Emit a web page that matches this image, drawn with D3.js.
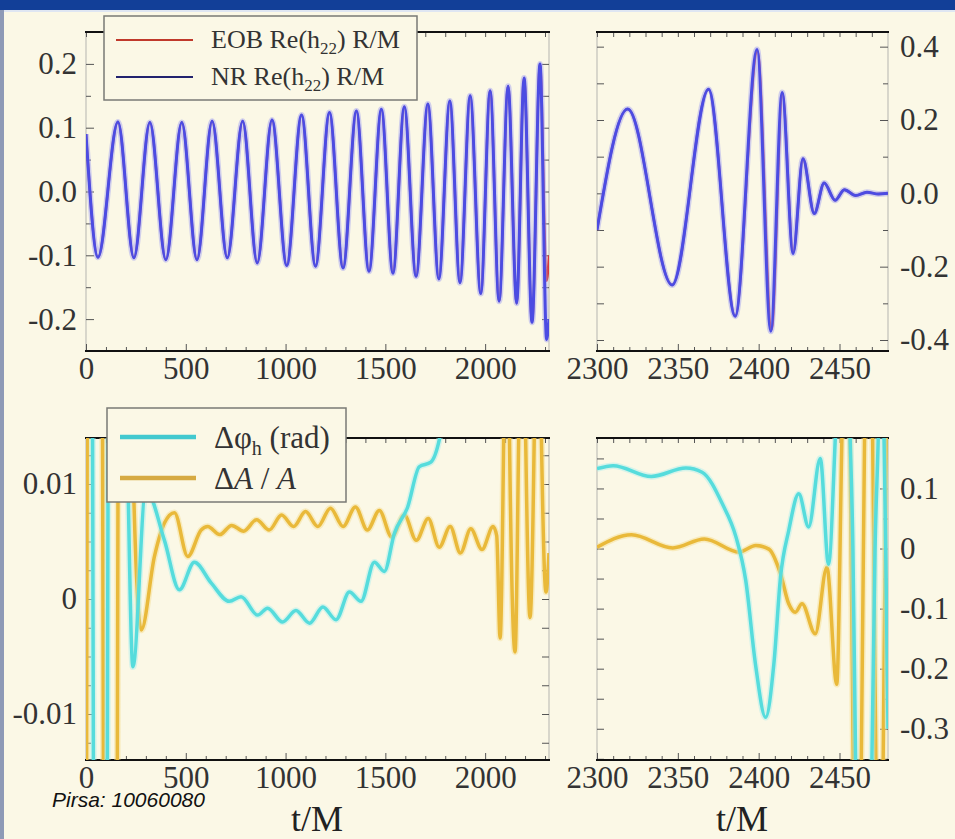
<!DOCTYPE html>
<html>
<head>
<meta charset="utf-8">
<script src="https://cdn.jsdelivr.net/npm/d3@7"></script>
<style>
  html, body { margin: 0; padding: 0; background: #fbf8e6; }
  svg { display: block; }
</style>
</head>
<body>
<svg id="chart" width="955" height="839"></svg>
<script>
'use strict';

// ---- values (extrema / turning points) ----

// top left: Re(h22) R/M during the inspiral
const inspTime = [0, 60, 160, 240, 320, 400, 480, 556, 632, 708, 785, 858, 932, 1006,
  1080, 1150, 1220, 1288, 1355, 1418, 1480, 1538, 1595, 1654, 1713, 1768, 1823, 1874,
  1925, 1978, 2025, 2070, 2115, 2158, 2195, 2235, 2275, 2308, 2320];
const nrInspVal = [0.09, -0.103, 0.109, -0.104, 0.108, -0.107, 0.108, -0.107, 0.11, -0.104,
  0.11, -0.112, 0.112, -0.116, 0.12, -0.117, 0.124, -0.12, 0.126, -0.125, 0.129, -0.128,
  0.133, -0.133, 0.137, -0.137, 0.142, -0.143, 0.15, -0.16, 0.158, -0.172, 0.165, -0.175,
  0.178, -0.205, 0.2, -0.232, -0.2];
const eobInspVal = [0.09, -0.103, 0.109, -0.104, 0.108, -0.107, 0.108, -0.107, 0.11, -0.104,
  0.11, -0.112, 0.112, -0.116, 0.12, -0.117, 0.124, -0.12, 0.126, -0.125, 0.129, -0.128,
  0.133, -0.133, 0.137, -0.137, 0.142, -0.143, 0.15, -0.16, 0.158, -0.172, 0.165, -0.175,
  0.178, -0.205, 0.2, -0.14, -0.1];

// top right: merger and ringdown
const nrMergTime = [2300, 2319, 2346.5, 2369, 2385.5, 2399, 2407.5, 2414.5, 2421.3, 2427.4,
  2434.4, 2440.5, 2447.3, 2453, 2460, 2467, 2474, 2480];
const nrMergVal = [-0.1, 0.23, -0.25, 0.284, -0.335, 0.392, -0.376, 0.275, -0.164, 0.094,
  -0.055, 0.028, -0.019, 0.01, -0.006, 0.003, -0.002, 0.0];
const eobMergTime = [2300, 2319, 2346.5, 2369, 2385.5, 2399.3, 2408, 2414.7, 2421.3, 2427.4,
  2434.4, 2440.5, 2447.3, 2453, 2460, 2467, 2474, 2480];
const eobMergVal = [-0.1, 0.23, -0.25, 0.284, -0.335, 0.388, -0.372, 0.272, -0.162, 0.094,
  -0.055, 0.028, -0.019, 0.01, -0.006, 0.003, -0.002, 0.0];

// bottom left: phase difference (rad) and relative amplitude difference
const dPhiTime = [0, 33, 37, 70, 107, 111, 160, 206, 235, 300, 393, 468, 543, 627, 718,
  777, 860, 910, 985, 1052, 1120, 1187, 1253, 1320, 1378, 1445, 1495, 1545, 1612, 1670,
  1728, 1778, 1850, 2320];
const dPhiVal = [0.05, 0.014, -0.014, -0.06, -0.014, 0.014, 0.06, 0.014, -0.0059, 0.0095,
  0.0051, 0.0008, 0.0032, 0.0014, -0.0002, 0.0002, -0.0014, -0.0008, -0.002, -0.001,
  -0.0021, -0.0007, -0.0018, 0.0006, -0.0002, 0.0032, 0.0024, 0.0057, 0.008, 0.0115,
  0.0119, 0.0145, 0.025, 0.06];
const dAmpTime = [0, 3, 6, 45, 83, 87, 122, 157, 161, 200, 232, 277, 343, 393, 443, 510,
  577, 610, 670, 730, 790, 855, 918, 980, 1040, 1100, 1162, 1225, 1288, 1350, 1410, 1470,
  1532, 1595, 1655, 1715, 1770, 1825, 1876, 1928, 1984, 2040, 2058, 2075, 2093, 2108,
  2122, 2150, 2168, 2185, 2203, 2225, 2246, 2263, 2282, 2305, 2320];
const dAmpVal = [-0.06, -0.014, 0.014, 0.06, 0.014, -0.014, -0.06, -0.014, 0.014, 0.06,
  0.014, -0.0027, 0.0037, 0.0066, 0.0075, 0.0037, 0.006, 0.0063, 0.0056, 0.0064, 0.0059,
  0.0069, 0.006, 0.0073, 0.0063, 0.0076, 0.0063, 0.0079, 0.0063, 0.008, 0.006, 0.0077,
  0.0054, 0.0073, 0.0051, 0.007, 0.0045, 0.0063, 0.004, 0.0061, 0.0043, 0.0063, 0.0055,
  -0.0034, 0.014, 0.04, 0.014, -0.0046, 0.014, 0.04, 0.014, -0.0016, 0.014, 0.04, 0.014,
  0.0006, 0.004];

// bottom right: same differences through merger
const dPhiMergTime = [2300, 2310, 2333.6, 2355, 2365, 2377.6, 2386, 2392, 2398, 2404.3,
  2409.4, 2413.5, 2418.6, 2424.8, 2430.9, 2438.1, 2443.2, 2447.5, 2452, 2456.5, 2458.3,
  2460, 2465, 2470, 2472, 2474, 2476, 2477.5, 2478.6, 2480];
const dPhiMergVal = [0.133, 0.138, 0.12, 0.134, 0.127, 0.074, 0.019, -0.053, -0.192, -0.281,
  -0.192, -0.048, 0.03, 0.091, 0.036, 0.15, -0.026, 0.19, 0.5, 0.19, 0, -0.36, -0.8,
  -0.36, 0, 0.19, 0.5, 0.19, 0, -0.3];
const dAmpMergTime = [2300, 2321.3, 2346.9, 2366.4, 2387.9, 2398.2, 2406.3, 2413.5, 2418.6,
  2422.7, 2426.8, 2435, 2442.2, 2448.3, 2451.5, 2454, 2456.5, 2458.5, 2461, 2463.5, 2465.5,
  2468, 2470.5, 2472.5, 2475, 2477, 2479, 2480];
const dAmpMergVal = [0.002, 0.023, 0.001, 0.016, -0.006, 0.005, -0.001, -0.042, -0.092,
  -0.106, -0.092, -0.142, -0.031, -0.226, 0.184, 0.5, 0.184, -0.352, -0.8, -0.352, 0.184,
  0.5, 0.184, -0.352, -0.7, -0.352, 0.184, 0.3];

// tick labels
const inspTicks = [0, 500, 1000, 1500, 2000];
const inspTickLabels = ['0', '500', '1000', '1500', '2000'];
const mergTicks = [2300, 2350, 2400, 2450];
const mergTickLabels = ['2300', '2350', '2400', '2450'];
const hInspTicks = [-0.2, -0.1, 0, 0.1, 0.2];
const hInspLabels = ['-0.2', '-0.1', '0.0', '0.1', '0.2'];
const hMergTicks = [-0.4, -0.2, 0, 0.2, 0.4];
const hMergLabels = ['-0.4', '-0.2', '0.0', '0.2', '0.4'];
const diffInspTicks = [-0.01, 0, 0.01];
const diffInspLabels = ['-0.01', '0', '0.01'];
const diffMergTicks = [-0.3, -0.2, -0.1, 0, 0.1];
const diffMergLabels = ['-0.3', '-0.2', '-0.1', '0', '0.1'];

// ---- drawing ----
const serif = "'Liberation Serif', 'Times New Roman', serif";
const bg = '#fbf8e6';
const svg = d3.select('#chart');

svg.append('rect').attr('width', 955).attr('height', 839).attr('fill', bg);
svg.append('rect').attr('width', 955).attr('height', 10).attr('fill', '#123f98');
svg.append('rect').attr('y', 10).attr('width', 955).attr('height', 2).attr('fill', '#dfe6f2');
svg.append('rect').attr('y', 10).attr('width', 4).attr('height', 829).attr('fill', '#8e9ab6');

function styleAxis(sel) {
  sel.select('.domain').remove();
  sel.selectAll('line').attr('stroke', '#555').attr('stroke-width', 1);
  sel.selectAll('text')
    .attr('font-family', serif)
    .attr('font-size', 31)
    .attr('fill', '#333');
}

function drawPanel(p) {
  const x = d3.scaleLinear().domain(p.xDomain).range([p.left, p.right]);
  const y = d3.scaleLinear().domain(p.yDomain).range([p.bottom, p.top]);
  const g = svg.append('g').attr('class', 'panel-' + p.id);

  svg.append('clipPath').attr('id', 'clip-' + p.id)
    .append('rect')
    .attr('x', p.left).attr('y', p.top)
    .attr('width', p.right - p.left).attr('height', p.bottom - p.top);

  // light side edges
  [p.left, p.right].forEach(function(xx) {
    g.append('line')
      .attr('x1', xx).attr('x2', xx).attr('y1', p.top).attr('y2', p.bottom)
      .attr('stroke', '#b5b5b0').attr('stroke-width', 1);
  });

  // x axes (labels at the bottom only)
  g.append('g').attr('transform', 'translate(0,' + p.bottom + ')')
    .call(d3.axisBottom(x).tickValues(p.xTicks)
      .tickFormat((d, i) => p.xLabels[i]).tickSizeInner(-7).tickSizeOuter(0).tickPadding(6))
    .call(styleAxis);
  g.append('g').attr('transform', 'translate(0,' + p.bottom + ')')
    .call(d3.axisBottom(x).tickValues(p.xMinor).tickFormat('').tickSizeInner(-4).tickSizeOuter(0))
    .call(styleAxis);
  g.append('g').attr('transform', 'translate(0,' + p.top + ')')
    .call(d3.axisTop(x).tickValues(p.xTicks.concat(p.xMinor)).tickFormat('')
      .tickSizeInner(-5).tickSizeOuter(0))
    .call(styleAxis);

  // y axes
  const labelAxis = p.ySide === 'left' ? d3.axisLeft(y) : d3.axisRight(y);
  const plainAxis = p.ySide === 'left' ? d3.axisRight(y) : d3.axisLeft(y);
  const labelX = p.ySide === 'left' ? p.left : p.right;
  const plainX = p.ySide === 'left' ? p.right : p.left;

  g.append('g').attr('transform', 'translate(' + labelX + ',0)')
    .call(labelAxis.tickValues(p.yTicks).tickFormat((d, i) => p.yLabels[i])
      .tickSizeInner(-8).tickSizeOuter(0).tickPadding(p.ySide === 'left' ? 9 : 12))
    .call(styleAxis);
  g.append('g').attr('transform', 'translate(' + labelX + ',0)')
    .call((p.ySide === 'left' ? d3.axisLeft(y) : d3.axisRight(y))
      .tickValues(p.yMinor).tickFormat('').tickSizeInner(-5).tickSizeOuter(0))
    .call(styleAxis);
  g.append('g').attr('transform', 'translate(' + plainX + ',0)')
    .call(plainAxis.tickValues(p.yTicks.concat(p.yMinor)).tickFormat('')
      .tickSizeInner(-7).tickSizeOuter(0))
    .call(styleAxis);

  // heavy top and bottom frame
  [p.top, p.bottom].forEach(function(yy) {
    g.append('line')
      .attr('x1', p.left - 1).attr('x2', p.right + 1).attr('y1', yy).attr('y2', yy)
      .attr('stroke', '#111').attr('stroke-width', 2);
  });

  const plot = svg.append('g').attr('clip-path', 'url(#clip-' + p.id + ')');
  return { x: x, y: y, plot: plot };
}

function drawSeries(panel, times, values, color, width, halo) {
  const line = d3.line()
    .x((d) => panel.x(d[0]))
    .y((d) => panel.y(d[1]))
    .curve(d3.curveMonotoneX);
  const pts = d3.zip(times, values);
  if (halo) {
    panel.plot.append('path')
      .attr('d', line(pts))
      .attr('fill', 'none')
      .attr('stroke', halo)
      .attr('stroke-width', width + 3)
      .attr('stroke-linejoin', 'round')
      .attr('opacity', 0.45);
  }
  panel.plot.append('path')
    .attr('d', line(pts))
    .attr('fill', 'none')
    .attr('stroke', color)
    .attr('stroke-width', width)
    .attr('stroke-linejoin', 'round');
}

const inspMinor = d3.range(100, 2320, 100).filter((d) => d % 500 !== 0);
const mergMinor = d3.range(2310, 2480, 10).filter((d) => d % 50 !== 0);

const topLeft = drawPanel({
  id: 'tl', left: 86, right: 549, top: 32, bottom: 351,
  xDomain: [0, 2320], yDomain: [-0.25, 0.25],
  xTicks: inspTicks, xLabels: inspTickLabels, xMinor: inspMinor,
  yTicks: hInspTicks, yLabels: hInspLabels, yMinor: [-0.15, -0.05, 0.05, 0.15],
  ySide: 'left',
});
const topRight = drawPanel({
  id: 'tr', left: 597, right: 888, top: 32, bottom: 351,
  xDomain: [2300, 2480], yDomain: [-0.43, 0.44],
  xTicks: mergTicks, xLabels: mergTickLabels, xMinor: mergMinor,
  yTicks: hMergTicks, yLabels: hMergLabels, yMinor: [-0.3, -0.1, 0.1, 0.3],
  ySide: 'right',
});
const bottomLeft = drawPanel({
  id: 'bl', left: 86, right: 549, top: 438, bottom: 760,
  xDomain: [0, 2320], yDomain: [-0.014, 0.014],
  xTicks: inspTicks, xLabels: inspTickLabels, xMinor: inspMinor,
  yTicks: diffInspTicks, yLabels: diffInspLabels,
  yMinor: [-0.0125, -0.0075, -0.005, -0.0025, 0.0025, 0.005, 0.0075, 0.0125],
  ySide: 'left',
});
const bottomRight = drawPanel({
  id: 'br', left: 597, right: 888, top: 438, bottom: 760,
  xDomain: [2300, 2480], yDomain: [-0.352, 0.184],
  xTicks: mergTicks, xLabels: mergTickLabels, xMinor: mergMinor,
  yTicks: diffMergTicks, yLabels: diffMergLabels, yMinor: [-0.35, -0.25, -0.15, -0.05, 0.05, 0.15],
  ySide: 'right',
});

const eobColor = '#d83a3a';
const nrColor = '#4c4ce2';
const nrHalo = '#9c9cf2';
const phiColor = '#56dcdc';
const ampColor = '#e9b93a';

drawSeries(topLeft, inspTime, eobInspVal, eobColor, 2.5);
drawSeries(topLeft, inspTime, nrInspVal, nrColor, 3, nrHalo);
drawSeries(topRight, eobMergTime, eobMergVal, eobColor, 2.5);
drawSeries(topRight, nrMergTime, nrMergVal, nrColor, 3, nrHalo);

drawSeries(bottomLeft, dAmpTime, dAmpVal, ampColor, 3.5, '#f5dc8c');
drawSeries(bottomLeft, dPhiTime, dPhiVal, phiColor, 3.5, '#a8eeee');
drawSeries(bottomRight, dAmpMergTime, dAmpMergVal, ampColor, 3.5, '#f5dc8c');
drawSeries(bottomRight, dPhiMergTime, dPhiMergVal, phiColor, 3.5, '#a8eeee');

// ---- legends ----
function legendBox(x0, y0, w, h) {
  svg.append('rect')
    .attr('x', x0).attr('y', y0).attr('width', w).attr('height', h)
    .attr('fill', bg).attr('stroke', '#7a7a76').attr('stroke-width', 1.5);
}

legendBox(104, 16, 313, 84);
const legendTop = [
  { name: 'EOB', color: '#c0392b', y: 40 },
  { name: 'NR', color: '#22226e', y: 77 },
];
legendTop.forEach(function(d) {
  svg.append('line')
    .attr('x1', 116).attr('x2', 193).attr('y1', d.y).attr('y2', d.y)
    .attr('stroke', d.color).attr('stroke-width', 2);
  const t = svg.append('text')
    .attr('x', 211).attr('y', d.y + 8)
    .attr('font-family', serif).attr('font-size', 26).attr('fill', '#333');
  t.append('tspan').text(d.name + ' Re(h');
  t.append('tspan').attr('font-size', 17).attr('dy', 6).text('22');
  t.append('tspan').attr('dy', -6).text(') R/M');
});

legendBox(107, 408, 239, 94);
svg.append('line')
  .attr('x1', 120).attr('x2', 196).attr('y1', 437).attr('y2', 437)
  .attr('stroke', '#42c9cf').attr('stroke-width', 4.5);
svg.append('line')
  .attr('x1', 120).attr('x2', 196).attr('y1', 478).attr('y2', 478)
  .attr('stroke', '#d6aa42').attr('stroke-width', 4.5);

const phiText = svg.append('text')
  .attr('x', 214).attr('y', 448)
  .attr('font-family', serif).attr('font-size', 31).attr('fill', '#333');
phiText.append('tspan').text('\u0394\u03c6');
phiText.append('tspan').attr('font-size', 20).attr('dy', 7).text('h');
phiText.append('tspan').attr('dy', -7).text(' (rad)');

const ampText = svg.append('text')
  .attr('x', 214).attr('y', 489)
  .attr('font-family', serif).attr('font-size', 31).attr('fill', '#333');
ampText.append('tspan').text('\u0394');
ampText.append('tspan').attr('font-style', 'italic').text('A');
ampText.append('tspan').text(' / ');
ampText.append('tspan').attr('font-style', 'italic').text('A');

// ---- axis titles and footer ----
[[317, 't/M'], [742, 't/M']].forEach(function(d) {
  svg.append('text')
    .attr('x', d[0]).attr('y', 831)
    .attr('text-anchor', 'middle')
    .attr('font-family', serif).attr('font-size', 36).attr('fill', '#222')
    .text(d[1]);
});

svg.append('text')
  .attr('x', 52).attr('y', 807)
  .attr('font-family', "'Liberation Sans', Arial, sans-serif")
  .attr('font-style', 'italic').attr('font-size', 21).attr('fill', '#111')
  .text('Pirsa: 10060080');
</script>
</body>
</html>
